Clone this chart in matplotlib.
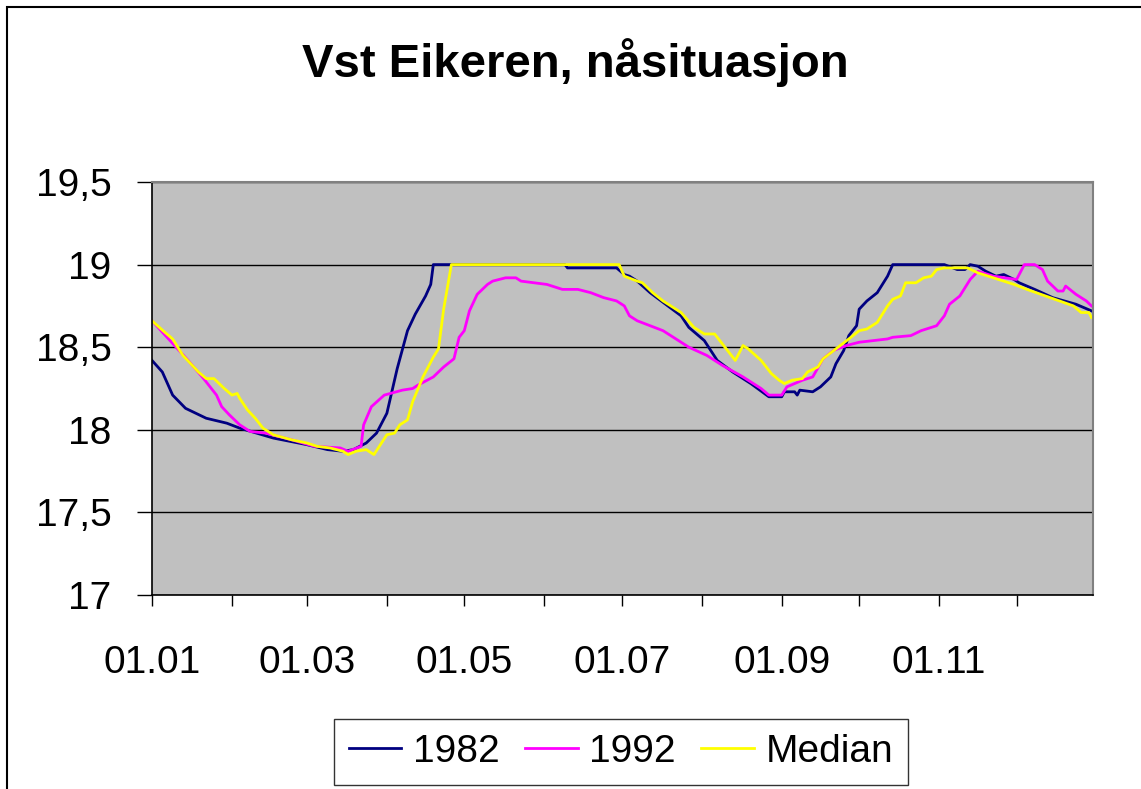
import matplotlib
matplotlib.use('Agg')
import matplotlib.pyplot as plt
import matplotlib.patches as mpatches

plt.rcParams['font.family'] = ['Liberation Sans', 'DejaVu Sans']

# day of year (leap-year calendar, 01.01 = 0) and water level
days_1982 = [0, 4, 8, 13, 21, 29, 34, 47, 60, 68,
             74, 78, 83, 87, 91, 95, 99, 102, 106, 108,
             109, 160, 161, 180, 183, 185, 188, 193, 199, 205,
             208, 214, 219, 225, 232, 239, 244, 245, 249, 250,
             251, 256, 259, 263, 265, 268, 270, 273, 274, 277,
             281, 283, 285, 287, 307, 312, 315, 317, 320, 323,
             327, 330, 334, 336, 342, 349, 358, 364]
level_1982 = [18.42, 18.35, 18.21, 18.13, 18.07, 18.04, 18.01, 17.95, 17.91, 17.88,
              17.87, 17.88, 17.92, 17.98, 18.10, 18.37, 18.60, 18.70, 18.81, 18.88,
              19.00, 19.00, 18.98, 18.98, 18.94, 18.93, 18.90, 18.83, 18.76, 18.69,
              18.62, 18.54, 18.42, 18.35, 18.28, 18.20, 18.20, 18.23, 18.23, 18.21,
              18.24, 18.23, 18.26, 18.32, 18.40, 18.48, 18.57, 18.63, 18.73, 18.78,
              18.83, 18.88, 18.93, 19.00, 19.00, 18.97, 18.97, 19.00, 18.99, 18.96,
              18.93, 18.94, 18.91, 18.89, 18.85, 18.80, 18.76, 18.72]

days_1992 = [0, 14, 20, 25, 27, 30, 34, 38, 44, 54,
             63, 73, 76, 81, 82, 85, 90, 97, 101, 103,
             109, 113, 117, 119, 121, 123, 126, 130, 132, 137,
             141, 143, 148, 153, 159, 165, 170, 175, 180, 183,
             185, 188, 193, 198, 203, 208, 215, 221, 229, 236,
             239, 244, 246, 249, 252, 256, 260, 264, 269, 274,
             285, 287, 294, 298, 304, 307, 309, 313, 317, 320,
             326, 335, 338, 342, 345, 347, 351, 353, 354, 358,
             362, 364]
level_1992 = [18.66, 18.42, 18.31, 18.21, 18.14, 18.09, 18.03, 17.99, 17.98, 17.94,
              17.90, 17.89, 17.87, 17.90, 18.03, 18.14, 18.21, 18.24, 18.25, 18.27,
              18.32, 18.38, 18.43, 18.56, 18.60, 18.72, 18.82, 18.88, 18.90, 18.92,
              18.92, 18.90, 18.89, 18.88, 18.85, 18.85, 18.83, 18.80, 18.78, 18.75,
              18.69, 18.66, 18.63, 18.60, 18.55, 18.50, 18.45, 18.39, 18.32, 18.25,
              18.21, 18.21, 18.26, 18.28, 18.30, 18.32, 18.43, 18.48, 18.51, 18.53,
              18.55, 18.56, 18.57, 18.60, 18.63, 18.69, 18.76, 18.81, 18.91, 18.96,
              18.93, 18.91, 19.00, 19.00, 18.97, 18.90, 18.84, 18.84, 18.87, 18.82,
              18.78, 18.75]

days_median = [0, 5, 8, 12, 18, 21, 24, 28, 31, 33,
               34, 37, 40, 43, 47, 54, 60, 64, 69, 74,
               76, 79, 83, 86, 91, 94, 96, 99, 101, 105,
               109, 111, 113, 116, 181, 183, 188, 190, 194, 198,
               205, 210, 214, 218, 221, 226, 229, 231, 236, 240,
               243, 245, 248, 252, 254, 258, 260, 265, 270, 274,
               277, 281, 285, 287, 290, 292, 296, 299, 302, 304,
               307, 312, 316, 320, 326, 334, 339, 348, 357, 360,
               363, 364]
level_median = [18.66, 18.59, 18.55, 18.45, 18.35, 18.31, 18.31, 18.25, 18.21, 18.22,
                18.19, 18.12, 18.07, 18.01, 17.97, 17.94, 17.92, 17.90, 17.89, 17.87,
                17.85, 17.87, 17.88, 17.85, 17.97, 17.98, 18.03, 18.06, 18.17, 18.32,
                18.44, 18.49, 18.73, 19.00, 19.00, 18.93, 18.90, 18.89, 18.83, 18.78,
                18.71, 18.62, 18.58, 18.58, 18.52, 18.42, 18.51, 18.49, 18.42, 18.34,
                18.30, 18.28, 18.30, 18.31, 18.35, 18.38, 18.43, 18.49, 18.55, 18.60,
                18.61, 18.65, 18.75, 18.79, 18.81, 18.89, 18.89, 18.92, 18.93, 18.97,
                18.98, 18.98, 18.98, 18.95, 18.92, 18.88, 18.85, 18.80, 18.75, 18.71,
                18.71, 18.68]

month_starts = [0, 31, 60, 91, 121, 152, 182, 213, 244, 274, 305, 335]
month_labels = ['01.01', '', '01.03', '', '01.05', '', '01.07', '',
                '01.09', '', '01.11', '']
y_ticks = [17, 17.5, 18, 18.5, 19, 19.5]
y_labels = ['17', '17,5', '18', '18,5', '19', '19,5']

W, H = 1141, 789
fig = plt.figure(figsize=(W / 100, H / 100), dpi=100)
fig.patch.set_facecolor('white')

# outer chart border (cut off at right and bottom)
fig.patches.append(mpatches.Rectangle((7 / W, -0.2), 1.2, 1.2 - 7 / H,
                                      transform=fig.transFigure, fill=False,
                                      ec='black', lw=1.5))

ax = fig.add_axes([152 / W, 1 - 595 / H, (1093 - 152) / W, (595 - 182) / H])
ax.set_facecolor('#c0c0c0')

ax.plot(days_1982, level_1982, color='#000080', lw=2, label='1982')
ax.plot(days_1992, level_1992, color='#ff00ff', lw=2, label='1992')
ax.plot(days_median, level_median, color='#ffff00', lw=2, label='Median')

ax.set_xlim(0, 364.6)
ax.set_ylim(17, 19.5)

ax.set_yticks(y_ticks)
ax.set_yticklabels(y_labels)
ax.set_xticks(month_starts)
ax.set_xticklabels(month_labels)
ax.tick_params(axis='y', length=11, width=1, pad=18, labelsize=28)
ax.tick_params(axis='x', length=8, width=1, pad=28, labelsize=28)

ax.grid(axis='y', color='black', lw=1)
for side in ['top', 'right']:
    ax.spines[side].set_color('#808080')
    ax.spines[side].set_linewidth(1.5)
for side in ['left', 'bottom']:
    ax.spines[side].set_color('black')
    ax.spines[side].set_linewidth(1.2)

fig.text(575 / W, 1 - 76.7 / H, 'Vst Eikeren, nåsituasjon', ha='center',
         va='baseline', fontsize=34, fontweight='bold')

leg = fig.legend(loc='center', bbox_to_anchor=(621 / W, 1 - 752 / H), ncol=3,
                 fontsize=28, frameon=True, fancybox=False, handlelength=1.35,
                 handletextpad=0.3, columnspacing=0.65, borderpad=0.38,
                 borderaxespad=0)
leg.get_frame().set_edgecolor('black')
leg.get_frame().set_linewidth(1)
for line in leg.get_lines():
    line.set_linewidth(2)

fig.savefig('out.png', dpi=100)
